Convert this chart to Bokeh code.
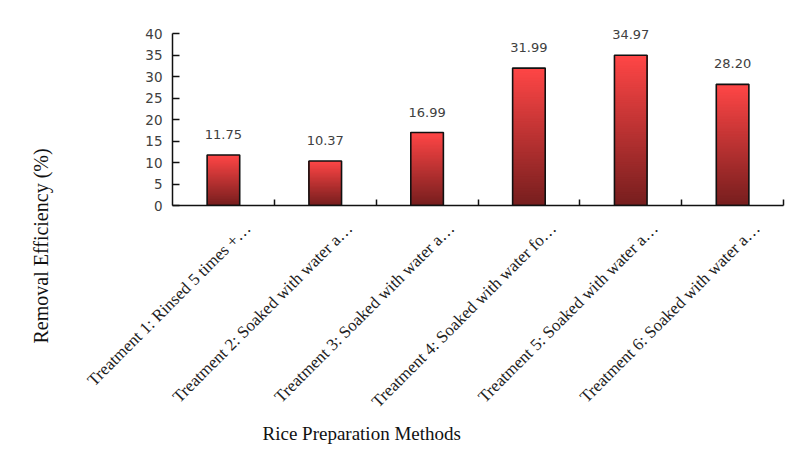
from bokeh.plotting import figure
from bokeh.models import (ColumnDataSource, FixedTicker, Range1d, Title, LabelSet)
from bokeh.core.properties import value
from bokeh.embed import file_html
from bokeh.resources import INLINE
import math

categories = [
    "Treatment 1: Rinsed 5 times +\u2026",
    "Treatment 2: Soaked with water a\u2026",
    "Treatment 3: Soaked with water a\u2026",
    "Treatment 4: Soaked with water fo\u2026",
    "Treatment 5: Soaked with water a\u2026",
    "Treatment 6: Soaked with water a\u2026",
]
values = [11.75, 10.37, 16.99, 31.99, 34.97, 28.20]
value_labels = ["11.75", "10.37", "16.99", "31.99", "34.97", "28.20"]
y_ticks = [0, 5, 10, 15, 20, 25, 30, 35, 40]

n = len(categories)
centers = [i + 0.5 for i in range(n)]

p = figure(width=794, height=466, output_backend="svg", toolbar_location=None,
           x_range=Range1d(0, n), y_range=Range1d(0, 44),
           min_border_left=172, min_border_right=11, min_border_top=16,
           min_border_bottom=261)
p.outline_line_color = None
p.grid.visible = False
p.background_fill_color = "white"

# gradient bars: overlapping slices, each running from its start up to the bar top
N = 80
top_c = (255, 70, 70)
bot_c = (118, 30, 30)
xs, bottoms, tops, colors = [], [], [], []
for c, v in zip(centers, values):
    for k in range(N):
        f = (k + 0.5) / N
        col = tuple(int(round(bot_c[j] + (top_c[j] - bot_c[j]) * f)) for j in range(3))
        xs.append(c)
        bottoms.append(v * k / N)
        tops.append(v)
        colors.append("#%02x%02x%02x" % col)
grad = ColumnDataSource(dict(x=xs, bottom=bottoms, top=tops, color=colors))
p.vbar(x="x", bottom="bottom", top="top", width=0.32, source=grad,
       fill_color="color", line_color=None)

src = ColumnDataSource(dict(x=centers, top=values, lab=value_labels))
p.vbar(x="x", top="top", width=0.32, source=src, fill_color=None,
       line_color="#111111", line_width=1.6)

p.add_layout(LabelSet(x="x", y="top", text="lab", source=src, y_offset=16,
                      text_align="center", text_baseline="alphabetic",
                      text_font=value("DejaVu Sans"), text_font_size=value("13px"),
                      text_color="#404040"))

# axes
xa = p.xaxis[0]
xa.ticker = FixedTicker(ticks=[c + 0.24 for c in centers], minor_ticks=[1, 2, 3, 4, 5, 6])
xa.major_label_overrides = {c + 0.24: lab for c, lab in zip(centers, categories)}
xa.major_label_orientation = math.pi / 4
xa.major_tick_in = 0
xa.major_tick_out = 0
xa.minor_tick_in = 6
xa.minor_tick_out = 0
xa.major_label_standoff = 20
xa.major_label_text_font = "Liberation Serif"
xa.major_label_text_font_size = "17px"
xa.major_label_text_color = "#222222"
xa.axis_line_color = "#111111"
xa.axis_line_width = 1.5
xa.minor_tick_line_color = "#111111"
xa.minor_tick_line_width = 1.5

ya = p.yaxis[0]
ya.ticker = FixedTicker(ticks=y_ticks)
ya.bounds = (0, 40)
ya.minor_tick_line_color = None
ya.major_tick_in = 7
ya.major_tick_out = 0
ya.major_label_standoff = 10
ya.major_label_text_font = "DejaVu Sans"
ya.major_label_text_font_size = "13.5px"
ya.major_label_text_color = "#404040"
ya.axis_line_color = "#111111"
ya.axis_line_width = 1.5
ya.major_tick_line_color = "#111111"
ya.major_tick_line_width = 1.5

# axis titles as side titles
xt = Title(text="Rice Preparation Methods", align="left", offset=90, standoff=0,
           text_font="Liberation Serif", text_font_size="19px",
           text_font_style="normal", text_color="#111111")
p.add_layout(xt, "below")
# empty spacer title pushes the y title outward
spacer = Title(text=" ", standoff=88, text_font_size="1px")
p.add_layout(spacer, "left")
yt = Title(text="Removal Efficiency (%)", align="left", offset=-138, standoff=0,
           text_font="Liberation Serif", text_font_size="20px",
           text_font_style="normal", text_color="#111111")
p.add_layout(yt, "left")

open("out.html", "w").write(file_html(p, INLINE))
